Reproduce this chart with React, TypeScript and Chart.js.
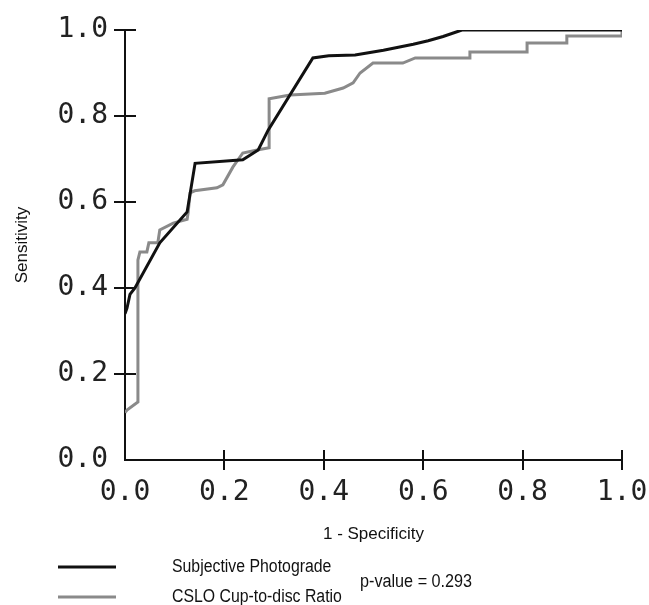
import React, { useEffect, useRef } from "react";
import { Chart, registerables } from "chart.js";

Chart.register(...registerables);

// ---- data ----
const photogradeX = [0, 0.004, 0.01, 0.02, 0.07, 0.125, 0.141, 0.237, 0.268, 0.288, 0.378, 0.41, 0.463, 0.49, 0.52, 0.55, 0.58, 0.61, 0.64, 0.678, 1.0];
const photogradeY = [0.34, 0.353, 0.385, 0.4, 0.505, 0.577, 0.69, 0.698, 0.721, 0.767, 0.935, 0.94, 0.942, 0.947, 0.953, 0.96, 0.967, 0.975, 0.985, 1.0, 1.0];

const csloX = [0, 0.004, 0.026, 0.026, 0.03, 0.044, 0.048, 0.066, 0.07, 0.097, 0.125, 0.127, 0.131, 0.14, 0.185, 0.197, 0.217, 0.237, 0.266, 0.29, 0.29, 0.332, 0.402, 0.439, 0.459, 0.473, 0.499, 0.559, 0.584, 0.694, 0.694, 0.809, 0.809, 0.889, 0.889, 1.0, 1.0];
const csloY = [0.11, 0.116, 0.135, 0.465, 0.484, 0.484, 0.505, 0.505, 0.535, 0.551, 0.56, 0.575, 0.621, 0.626, 0.633, 0.64, 0.681, 0.714, 0.721, 0.726, 0.84, 0.849, 0.853, 0.865, 0.877, 0.9, 0.923, 0.923, 0.935, 0.935, 0.949, 0.949, 0.97, 0.97, 0.986, 0.986, 1.0];

const seriesLabels = ["Subjective Photograde", "CSLO Cup-to-disc Ratio"];
const seriesColors = ["#111111", "#8a8a8a"];
const pValueText = "p-value = 0.293";
const xTitle = "1 - Specificity";
const yTitle = "Sensitivity";

const TEXT_FONT = "'Liberation Sans', Arial, sans-serif";
const TICK_FONT = "'DejaVu Sans Mono', monospace";

const toPoints = (xs: number[], ys: number[]) => xs.map((x, i) => ({ x, y: ys[i] }));

const crossTicks = {
  id: "crossTicks",
  afterDatasetsDraw(chart: any) {
    const { ctx, chartArea, scales } = chart;
    const xs = scales.x;
    const ys = scales.y;
    ctx.save();
    ctx.strokeStyle = "#111";
    ctx.lineWidth = 2;
    ctx.beginPath();
    xs.ticks.forEach((t: any) => {
      if (t.value === 0) return;
      const px = Math.round(xs.getPixelForValue(t.value));
      ctx.moveTo(px, chartArea.bottom - 10);
      ctx.lineTo(px, chartArea.bottom + 10);
    });
    ys.ticks.forEach((t: any) => {
      if (t.value === 0) return;
      const py = Math.round(ys.getPixelForValue(t.value));
      ctx.moveTo(chartArea.left - 11, py);
      ctx.lineTo(chartArea.left + 11, py);
    });
    ctx.stroke();
    ctx.restore();
  },
};

const condensedText = (ctx: CanvasRenderingContext2D, text: string, x: number, y: number, sx: number) => {
  ctx.save();
  ctx.translate(x, y);
  ctx.scale(sx, 1);
  ctx.fillText(text, 0, 0);
  ctx.restore();
};

const customLegend = {
  id: "customLegend",
  afterDraw(chart: any) {
    const { ctx } = chart;
    const rows = [567, 597];
    ctx.save();
    ctx.font = `18px ${TEXT_FONT}`;
    ctx.textBaseline = "middle";
    ctx.textAlign = "left";
    ctx.fillStyle = "#111";
    chart.data.datasets.forEach((ds: any, i: number) => {
      const y = rows[i];
      ctx.strokeStyle = ds.borderColor;
      ctx.lineWidth = 3;
      ctx.beginPath();
      ctx.moveTo(58, y);
      ctx.lineTo(116, y);
      ctx.stroke();
      condensedText(ctx, ds.label, 172, y, 0.88);
    });
    condensedText(ctx, pValueText, 360, 582, 0.9);
    ctx.restore();
  },
};

export default function App() {
  const ref = useRef<HTMLCanvasElement | null>(null);
  useEffect(() => {
    if (!ref.current) return;
    const chart = new Chart(ref.current, {
      type: "line",
      data: {
        datasets: [
          {
            label: seriesLabels[0],
            data: toPoints(photogradeX, photogradeY),
            borderColor: seriesColors[0],
            borderWidth: 3,
            pointRadius: 0,
            tension: 0,
            fill: false,
          },
          {
            label: seriesLabels[1],
            data: toPoints(csloX, csloY),
            borderColor: seriesColors[1],
            borderWidth: 3,
            pointRadius: 0,
            tension: 0,
            fill: false,
          },
        ],
      },
      options: {
        animation: false,
        responsive: false,
        devicePixelRatio: 1,
        layout: { padding: { left: 0, right: 27, top: 30, bottom: 0 } },
        plugins: { legend: { display: false }, tooltip: { enabled: false } },
        scales: {
          x: {
            type: "linear",
            min: 0,
            max: 1,
            ticks: {
              stepSize: 0.2,
              padding: 8,
              color: "#222",
              font: { family: TICK_FONT, size: 28 },
              callback: (v: any) => Number(v).toFixed(1),
              maxRotation: 0,
            },
            grid: { display: false },
            border: { display: true, color: "#111", width: 2 },
            title: {
              display: true,
              text: xTitle,
              color: "#111",
              font: { family: TEXT_FONT, size: 17 },
              padding: { top: 0, bottom: 60 },
            },
            afterFit: (s: any) => {
              s.height = 145;
              s.paddingLeft = 0;
              s.paddingRight = 0;
            },
          },
          y: {
            type: "linear",
            min: 0,
            max: 1,
            ticks: {
              stepSize: 0.2,
              padding: 9,
              color: "#222",
              font: { family: TICK_FONT, size: 28 },
              callback: (v: any) => Number(v).toFixed(1),
            },
            grid: { display: false },
            border: { display: true, color: "#111", width: 2 },
            title: {
              display: true,
              text: yTitle,
              color: "#111",
              font: { family: TEXT_FONT, size: 17 },
              padding: { top: 12, bottom: 0 },
            },
            afterFit: (s: any) => {
              s.width = 125;
              s.paddingTop = 0;
              s.paddingBottom = 0;
            },
          },
        },
      },
      plugins: [crossTicks, customLegend],
    });
    return () => chart.destroy();
  }, []);

  return (
    <div style={{ position: "absolute", left: 0, top: 0, width: 649, height: 605, background: "#fff" }}>
      <canvas ref={ref} width={649} height={605} style={{ width: 649, height: 605 }} />
    </div>
  );
}
